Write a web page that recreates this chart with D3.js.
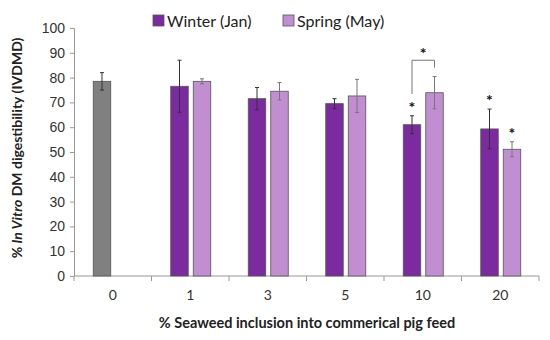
<!DOCTYPE html>
<html lang="en">
<head>
<meta charset="UTF-8">
<title>IVDMD by seaweed inclusion</title>
<script src="https://d3js.org/d3.v7.min.js"></script>
<style>
  body { margin: 0; background: #fff; }
  svg { font-family: 'Lato', 'Liberation Sans', sans-serif; }
</style>
</head>
<body>
<div id="chart"></div>
<script>
// data
const categories = ["0", "1", "3", "5", "10", "20"];
const seasons = ["Winter (Jan)", "Spring (May)"];
const winterMean = [78.5, 76.5, 71.5, 69.5, 61, 59.3];
const winterErr  = [3.5, 10.5, 4.5, 2, 3.6, 8];
const springMean = [null, 78.5, 74.5, 72.6, 73.9, 51.1];
const springErr  = [null, 1, 3.5, 6.7, 6.5, 3];
const winterStar = [false, false, false, false, true, true];
const springStar = [false, false, false, false, false, true];
const yTicks = [0, 10, 20, 30, 40, 50, 60, 70, 80, 90, 100];

const W = 550, H = 340;
const margin = { top: 28, right: 11, bottom: 64, left: 74 };

const svg = d3.select("#chart").append("svg")
  .attr("width", W).attr("height", H);

const x = d3.scaleBand()
  .domain(categories)
  .range([margin.left, W - margin.right]);

const y = d3.scaleLinear()
  .domain([0, 100])
  .range([H - margin.bottom, margin.top]);

const barW = 17.5;
const colors = { win: "#7b2a9f", spr: "#c28ed2", ctrl: "#808080" };

// rows for drawing
const rows = [];
categories.forEach((c, i) => {
  const mid = x(c) + x.bandwidth() / 2;
  rows.push({ cat: c, x0: mid - 19.5, v: winterMean[i], e: winterErr[i],
    fill: i === 0 ? colors.ctrl : colors.win, star: winterStar[i], errCol: "#333" });
  if (springMean[i] != null) {
    rows.push({ cat: c, x0: mid + 3, v: springMean[i], e: springErr[i],
      fill: colors.spr, star: springStar[i], errCol: "#777" });
  }
});

// axes
const yAxis = d3.axisLeft(y).tickValues(yTicks).tickSize(4).tickPadding(5);
const gy = svg.append("g").attr("transform", `translate(${margin.left},0)`).call(yAxis);
gy.select(".domain").attr("stroke", "#999");
gy.selectAll(".tick line").attr("stroke", "#999");
gy.selectAll("text").attr("font-size", 14).attr("fill", "#333");

const gx = svg.append("g").attr("transform", `translate(0,${y(0)})`);
gx.append("line").attr("x1", margin.left).attr("x2", W - margin.right)
  .attr("stroke", "#999");
gx.selectAll(".bt").data(categories.concat(["end"])).enter().append("line")
  .attr("x1", (d, i) => margin.left + i * x.bandwidth())
  .attr("x2", (d, i) => margin.left + i * x.bandwidth())
  .attr("y1", 0).attr("y2", 5).attr("stroke", "#999");
gx.selectAll("text").data(categories).enter().append("text")
  .attr("x", d => x(d) + x.bandwidth() / 2)
  .attr("y", 24)
  .attr("text-anchor", "middle")
  .attr("font-size", 14).attr("fill", "#333")
  .text(d => d);

// bars
svg.selectAll("rect.bar").data(rows).enter().append("rect")
  .attr("class", "bar")
  .attr("x", d => d.x0)
  .attr("width", barW)
  .attr("y", d => y(d.v))
  .attr("height", d => y(0) - y(d.v))
  .attr("fill", d => d.fill)
  .attr("stroke", "#555")
  .attr("stroke-width", 0.8);

// error bars
const eb = svg.selectAll("g.err").data(rows).enter().append("g")
  .attr("stroke", d => d.errCol).attr("stroke-width", 1);
eb.append("line")
  .attr("x1", d => d.x0 + barW / 2).attr("x2", d => d.x0 + barW / 2)
  .attr("y1", d => y(d.v + d.e)).attr("y2", d => y(d.v - d.e));
eb.append("line")
  .attr("x1", d => d.x0 + barW / 2 - 2).attr("x2", d => d.x0 + barW / 2 + 2)
  .attr("y1", d => y(d.v + d.e)).attr("y2", d => y(d.v + d.e));
eb.append("line")
  .attr("x1", d => d.x0 + barW / 2 - 2).attr("x2", d => d.x0 + barW / 2 + 2)
  .attr("y1", d => y(d.v - d.e)).attr("y2", d => y(d.v - d.e));

// significance stars
svg.selectAll("text.star").data(rows.filter(d => d.star)).enter().append("text")
  .attr("class", "star")
  .attr("x", d => d.x0 + barW / 2)
  .attr("y", d => y(d.v + d.e) - 3)
  .attr("text-anchor", "middle")
  .attr("font-size", 16).attr("font-weight", "bold").attr("fill", "#111")
  .text("*");

// bracket between winter and spring at 10%
const w10 = rows.find(d => d.cat === "10" && d.fill === colors.win);
const s10 = rows.find(d => d.cat === "10" && d.fill === colors.spr);
const bx1 = w10.x0 + barW / 2, bx2 = s10.x0 + barW / 2, bTop = y(87);
svg.append("path")
  .attr("d", `M${bx1},${y(73.4)} V${bTop} H${bx2} V${y(84)}`)
  .attr("fill", "none").attr("stroke", "#777").attr("stroke-width", 1);
svg.append("text")
  .attr("x", (bx1 + bx2) / 2).attr("y", bTop - 1)
  .attr("text-anchor", "middle")
  .attr("font-size", 16).attr("font-weight", "bold").attr("fill", "#111")
  .text("*");

// legend
const legend = svg.append("g");
const legX = [153, 283];
seasons.forEach((s, i) => {
  legend.append("rect")
    .attr("x", legX[i]).attr("y", 15).attr("width", 11).attr("height", 11)
    .attr("fill", i === 0 ? colors.win : colors.spr)
    .attr("stroke", "#555").attr("stroke-width", 0.8);
  legend.append("text")
    .attr("x", legX[i] + 14).attr("y", 26.5)
    .attr("font-size", 16).attr("fill", "#222")
    .text(s);
});

// axis titles
svg.append("text")
  .attr("x", 307).attr("y", 328)
  .attr("text-anchor", "middle")
  .attr("font-size", 14.5).attr("font-weight", "bold").attr("fill", "#222")
  .text("% Seaweed inclusion into commerical pig feed");

const yt = svg.append("text")
  .attr("transform", `translate(22,148) rotate(-90)`)
  .attr("text-anchor", "middle")
  .attr("font-size", 14).attr("font-weight", "bold").attr("fill", "#222");
yt.append("tspan").text("% ");
yt.append("tspan").attr("font-style", "italic").text("In Vitro");
yt.append("tspan").text(" DM digestibility (IVDMD)");
</script>
</body>
</html>
